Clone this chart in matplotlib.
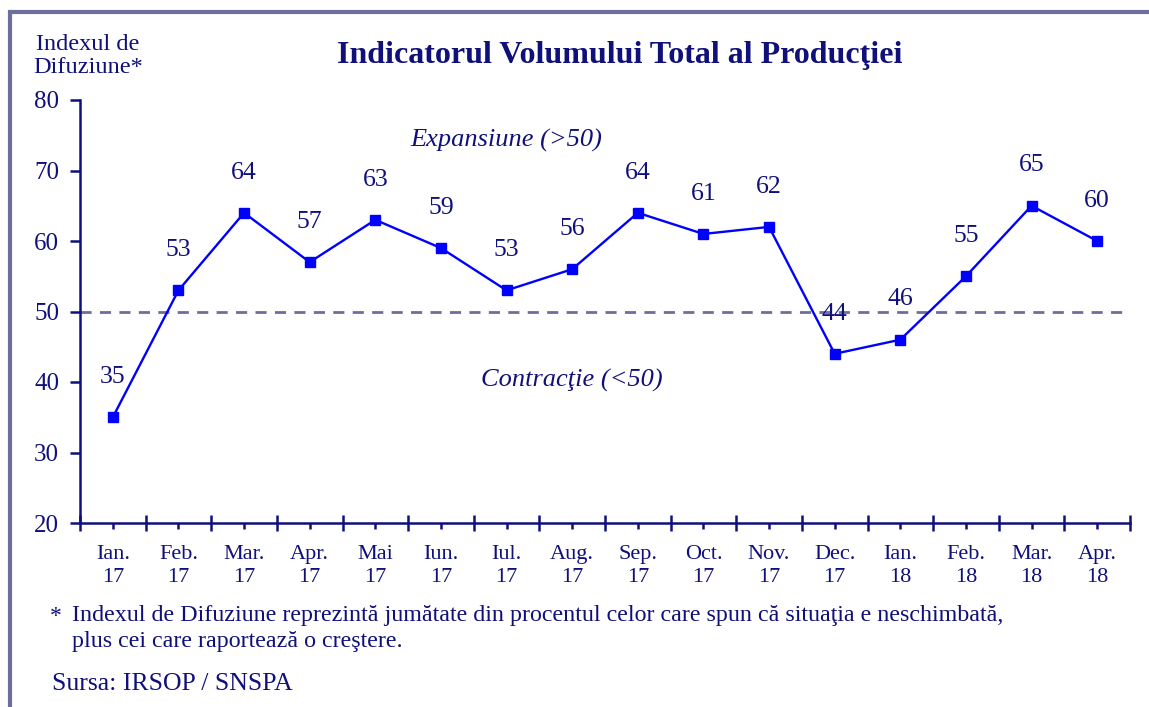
import numpy as np
import matplotlib.pyplot as plt
from matplotlib.patches import Rectangle

# data
months = ['Ian.\n17', 'Feb.\n17', 'Mar.\n17', 'Apr.\n17', 'Mai\n17', 'Iun.\n17', 'Iul.\n17', 'Aug.\n17',
          'Sep.\n17', 'Oct.\n17', 'Nov.\n17', 'Dec.\n17', 'Ian.\n18', 'Feb.\n18', 'Mar.\n18', 'Apr.\n18']
values = [35, 53, 64, 57, 63, 59, 53, 56, 64, 61, 62, 44, 46, 55, 65, 60]

navy = '#10107a'
plt.rcParams['font.family'] = ['Liberation Serif', 'DejaVu Serif']

fig = plt.figure(figsize=(11.49, 7.07), dpi=100)
ax = fig.add_axes([80 / 1149, 1 - 523 / 707, 1050 / 1149, 423 / 707])

x = np.arange(len(values))
ax.plot(x, values, color='#0000ff', lw=1.7, marker='s', ms=7, zorder=3)
ax.axhline(50, color='#6e6e9e', lw=2, ls=(0, (4, 3)), zorder=2)

for xi, v in zip(x, values):
    ax.annotate(str(v), (xi, v), xytext=(0, 29), textcoords='offset points',
                ha='center', va='center', fontsize=18.5, color=navy)

ax.text(6, 74.3, 'Expansiune (>50)', style='italic', fontsize=19, color=navy, ha='center', va='center')
ax.text(7, 40.2, 'Contracţie (<50)', style='italic', fontsize=19, color=navy, ha='center', va='center')

ax.set_xlim(-0.5, len(values) - 0.5)
ax.set_ylim(20, 80)
ax.set_yticks(np.arange(20, 81, 10))
ax.set_xticks(np.arange(-0.5, len(values), 1.0))
ax.set_xticklabels([])
ax.set_xticks(x, minor=True)
ax.set_xticklabels(months, minor=True, fontsize=16, color=navy, linespacing=1.3)

for s in ['top', 'right']:
    ax.spines[s].set_visible(False)
for s in ['left', 'bottom']:
    ax.spines[s].set_color(navy)
    ax.spines[s].set_linewidth(1.8)

ax.tick_params(axis='y', direction='out', length=7, width=1.8, color=navy, labelcolor=navy,
               labelsize=18, pad=8)
ax.tick_params(axis='x', which='major', direction='inout', length=12, width=1.8, color=navy)
ax.tick_params(axis='x', which='minor', direction='out', length=4, width=1.8, color=navy, pad=12)

fig.suptitle('Indicatorul Volumului Total al Producţiei', x=620 / 1149, y=1 - 56 / 707, va='center',
             fontsize=23, fontweight='bold', color=navy)
fig.text(88 / 1149, 1 - 56 / 707, 'Indexul de\nDifuziune*', ha='center', va='center',
         fontsize=17.5, color=navy, linespacing=1.15)

fig.text(50 / 1149, 1 - 616 / 707, '*', ha='left', va='center', fontsize=17, color=navy)
fig.text(72 / 1149, 1 - 616 / 707, 'Indexul de Difuziune reprezintă jumătate din procentul celor care spun că situaţia e neschimbată,',
         ha='left', va='center', fontsize=17.3, color=navy)
fig.text(72 / 1149, 1 - 642 / 707, 'plus cei care raportează o creştere.', ha='left', va='center',
         fontsize=17.3, color=navy)
fig.text(52 / 1149, 1 - 684 / 707, 'Sursa: IRSOP / SNSPA', ha='left', va='center', fontsize=18.5, color=navy)

fig.patches.append(Rectangle((10 / 1149, -0.1), 1.2, 1 - 12 / 707 + 0.1, transform=fig.transFigure,
                             fill=False, edgecolor='#6e6e9e', lw=3, clip_on=False))

fig.savefig('out.png', dpi=100)
